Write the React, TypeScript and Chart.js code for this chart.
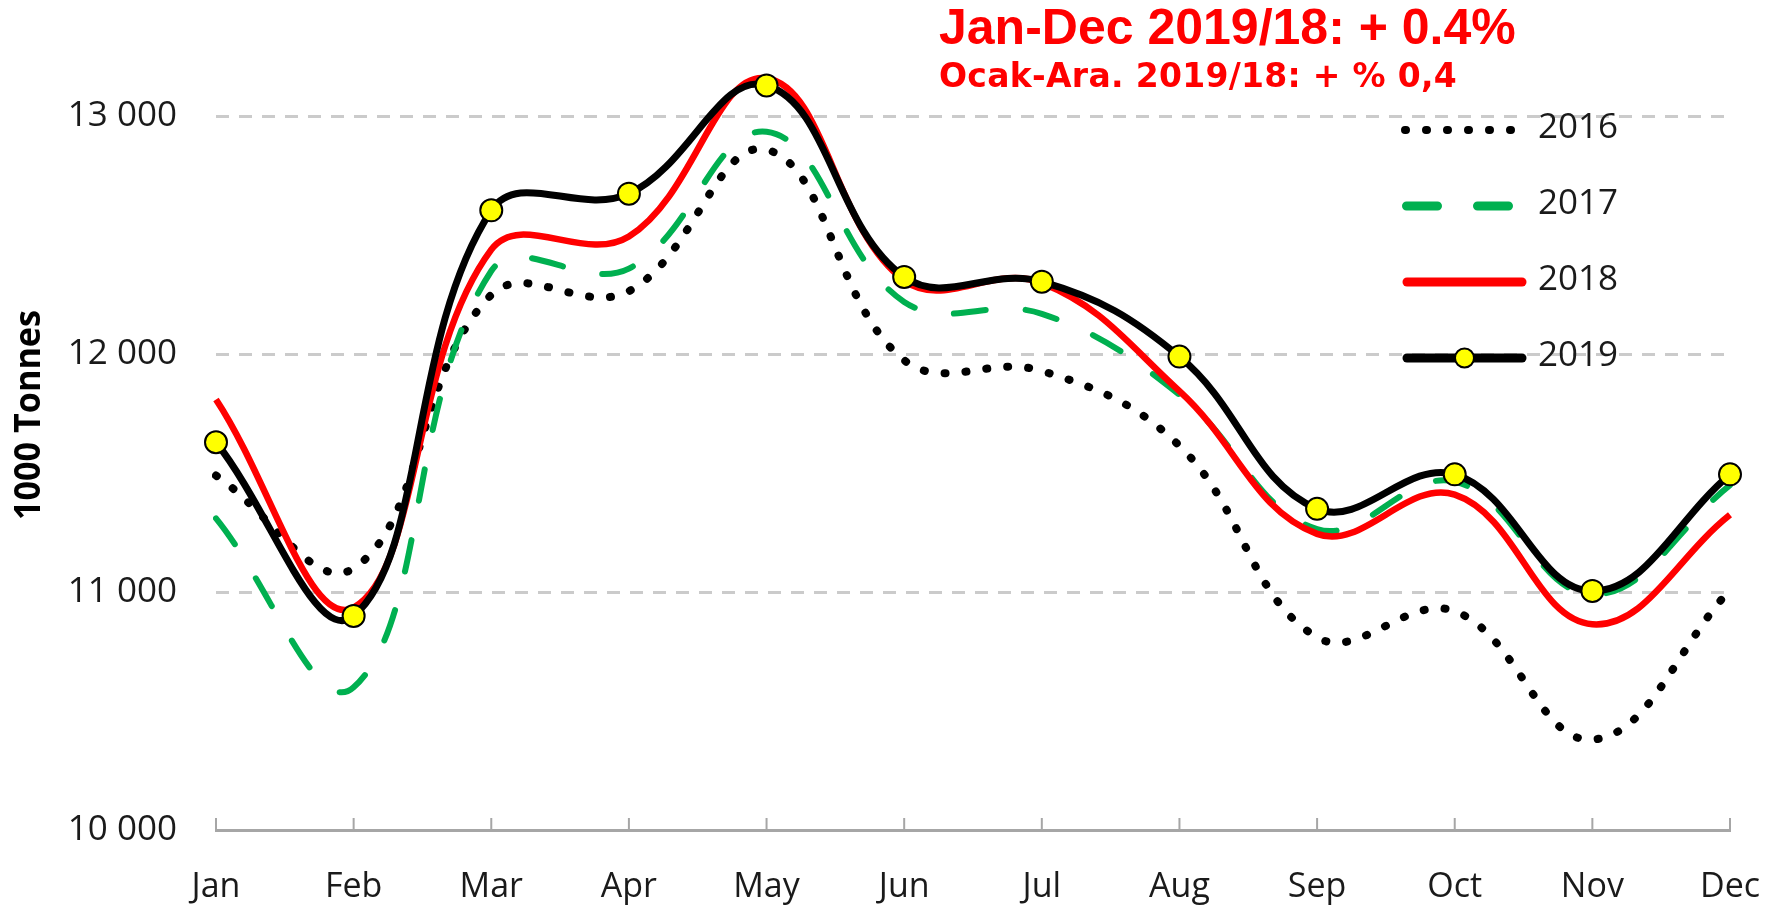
import React, { useEffect, useRef } from "react";
import { Chart, registerables } from "chart.js";

Chart.register(...registerables);

const months = ["Jan", "Feb", "Mar", "Apr", "May", "Jun", "Jul", "Aug", "Sep", "Oct", "Nov", "Dec"];
const y2016 = [11490, 11100, 12250, 12265, 12860, 11975, 11930, 11615, 10810, 10920, 10380, 11010];
const y2017 = [11310, 10600, 12350, 12360, 12935, 12220, 12170, 11830, 11265, 11465, 10990, 11450];
const y2018 = [11810, 10935, 12440, 12495, 13160, 12310, 12300, 11845, 11245, 11410, 10865, 11325];
const y2019 = [11630, 10900, 12605, 12675, 13130, 12325, 12305, 11990, 11350, 11495, 11005, 11495];
const seriesNames = ["2016", "2017", "2018", "2019"];
const yTickValues = [10000, 11000, 12000, 13000];
const titleText = "Jan-Dec 2019/18: + 0.4%";
const subtitleText = "Ocak-Ara. 2019/18: + % 0,4";
const yAxisTitle = "1000 Tonnes";

const W = 1785;
const H = 910;
const TEXT = "#1a1a1a";
const AXIS = "#A6A6A6";
const GRID = "#CBCBCB";

function fmt(v: number) {
  return String(v).replace(/\B(?=(\d{3})+(?!\d))/g, " ");
}

export default function App() {
  const ref = useRef<HTMLCanvasElement>(null);

  useEffect(() => {
    document.body.style.margin = "0";
    const canvas = ref.current!;

    const legendStyles = [
      { width: 8, dash: [1, 20], x0: 1405, x1: 1513 },
      { width: 9, dash: [31, 40], x0: 1406.5, x1: 1509 },
      { width: 9, dash: [], x0: 1407, x1: 1522 },
      { width: 9, dash: [], x0: 1407, x1: 1522 },
    ];

    const overlay = {
      id: "overlay",
      beforeDatasetsDraw(chart: any) {
        const c = chart.ctx;
        const xs = chart.scales.x;
        c.save();
        c.strokeStyle = AXIS;
        c.lineWidth = 2;
        c.setLineDash([]);
        xs.ticks.forEach((_t: any, i: number) => {
          const x = xs.getPixelForTick(i);
          c.beginPath();
          c.moveTo(x, xs.top + 1);
          c.lineTo(x, xs.top - 12);
          c.stroke();
        });
        c.restore();
      },
      afterDraw(chart: any) {
        const c = chart.ctx;
        c.save();
        // title
        c.fillStyle = "#FF0000";
        c.textAlign = "left";
        c.textBaseline = "alphabetic";
        c.font = "bold 50px 'Liberation Sans', Arial, sans-serif";
        c.fillText(titleText, 939, 44);
        c.font = "bold 33px 'DejaVu Sans', Verdana, sans-serif";
        try {
          (c as any).letterSpacing = "0.3px";
        } catch (e) {}
        c.fillText(subtitleText, 939, 87);
        try {
          (c as any).letterSpacing = "0px";
        } catch (e) {}

        // y axis title
        c.save();
        c.translate(30, 415);
        c.rotate(-Math.PI / 2);
        c.fillStyle = "#000";
        c.textAlign = "center";
        c.textBaseline = "middle";
        c.font = "bold 36px 'Open Sans', sans-serif";
        c.fillText(yAxisTitle, 0, 0, 210);
        c.restore();

        // legend
        const rowTop = 130;
        const rowGap = 76;
        chart.data.datasets.forEach((ds: any, i: number) => {
          const st = legendStyles[i];
          const y = rowTop + i * rowGap;
          c.save();
          c.strokeStyle = ds.borderColor;
          c.lineWidth = st.width;
          c.lineCap = "round";
          c.setLineDash(st.dash);
          c.beginPath();
          c.moveTo(st.x0, y);
          c.lineTo(st.x1, y);
          c.stroke();
          c.restore();
          if (ds.pointRadius > 0) {
            c.save();
            c.beginPath();
            c.arc((st.x0 + st.x1) / 2, y, 9.5, 0, Math.PI * 2);
            c.fillStyle = ds.pointBackgroundColor;
            c.fill();
            c.lineWidth = 2;
            c.strokeStyle = ds.pointBorderColor;
            c.stroke();
            c.restore();
          }
          c.fillStyle = TEXT;
          c.textAlign = "left";
          c.textBaseline = "middle";
          c.font = "35px 'Open Sans', sans-serif";
          c.fillText(ds.label, 1538, y - 2);
        });
        c.restore();
      },
    };

    const chart = new Chart(canvas, {
      type: "line",
      data: {
        labels: months,
        datasets: [
          {
            label: seriesNames[0],
            data: y2016,
            borderColor: "#000000",
            borderWidth: 8,
            borderDash: [1, 20],
            borderCapStyle: "round",
            pointRadius: 0,
            tension: 0.4,
            order: 4,
          },
          {
            label: seriesNames[1],
            data: y2017,
            borderColor: "#00B050",
            borderWidth: 6,
            borderDash: [32, 40],
            borderCapStyle: "round",
            pointRadius: 0,
            tension: 0.4,
            order: 3,
          },
          {
            label: seriesNames[2],
            data: y2018,
            borderColor: "#FF0000",
            borderWidth: 6.5,
            pointRadius: 0,
            tension: 0.4,
            order: 2,
          },
          {
            label: seriesNames[3],
            data: y2019,
            borderColor: "#000000",
            borderWidth: 7,
            pointRadius: 11,
            pointBackgroundColor: "#FFFF00",
            pointBorderColor: "#000000",
            pointBorderWidth: 2,
            tension: 0.4,
            order: 1,
          },
        ],
      } as any,
      options: {
        responsive: false,
        animation: false,
        devicePixelRatio: 1,
        events: [],
        layout: { autoPadding: false, padding: { left: 0, right: 55, top: 45, bottom: 0 } },
        plugins: {
          legend: { display: false },
          title: { display: false },
          tooltip: { enabled: false },
        },
        scales: {
          x: {
            type: "category",
            offset: false,
            grid: { display: false, drawTicks: false },
            border: { display: true, color: AXIS, width: 3 },
            ticks: {
              color: TEXT,
              font: { family: "'Open Sans', sans-serif", size: 34 },
              padding: 37,
              maxRotation: 0,
              autoSkip: false,
            },
            afterFit: (s: any) => {
              s.height = 80;
              s.paddingLeft = 0;
              s.paddingRight = 0;
              s.paddingTop = 0;
              s.paddingBottom = 0;
            },
          },
          y: {
            type: "linear",
            min: 10000,
            max: 13300,
            grid: {
              drawTicks: false,
              lineWidth: 3,
              color: (ctx: any) => (ctx.tick && ctx.tick.value === yTickValues[0] ? "rgba(0,0,0,0)" : GRID),
            },
            border: { display: false, dash: [13, 10] },
            ticks: {
              stepSize: 1000,
              color: TEXT,
              font: { family: "'Open Sans', sans-serif", size: 35 },
              padding: 39,
              callback: (v: any) => fmt(Number(v)),
            },
            afterBuildTicks: (s: any) => {
              s.ticks = yTickValues.map((v) => ({ value: v }));
            },
            afterFit: (s: any) => {
              s.width = 216;
              s.paddingLeft = 0;
              s.paddingRight = 0;
              s.paddingTop = 0;
              s.paddingBottom = 0;
            },
          },
        },
      } as any,
      plugins: [overlay],
    });

    const fonts = [
      "35px 'Open Sans'",
      "bold 36px 'Open Sans'",
      "bold 50px 'Liberation Sans'",
      "bold 33px 'DejaVu Sans'",
    ];
    if ((document as any).fonts && (document as any).fonts.load) {
      Promise.all(fonts.map((f) => (document as any).fonts.load(f)))
        .then(() => chart.update())
        .catch(() => {});
    }

    return () => chart.destroy();
  }, []);

  return (
    <div style={{ position: "absolute", left: 0, top: 0, width: W, height: H, background: "#fff" }}>
      <canvas ref={ref} width={W} height={H} style={{ display: "block", width: W, height: H }} />
    </div>
  );
}
